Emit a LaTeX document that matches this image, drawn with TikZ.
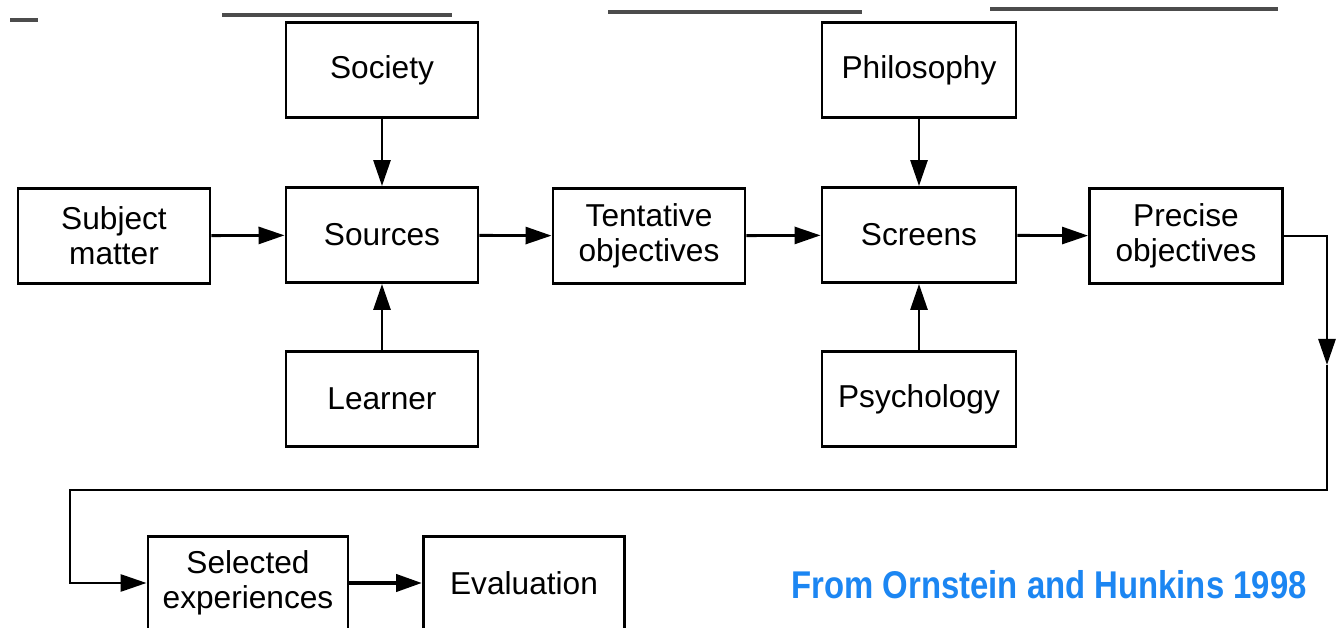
\documentclass[tikz,border=0pt]{standalone}
\usepackage{fontspec}
\setmainfont{Liberation Sans}
\usetikzlibrary{arrows.meta}
\definecolor{citeblue}{RGB}{28,134,242}
\tikzset{
  box/.style={draw, thick, minimum width=1.92cm, minimum height=0.95cm, inner sep=0pt,
    align=center, font=\fontsize{9}{10}\selectfont},
  scanline/.style={line width=1.2pt, black!70}
}
\begin{document}
\begin{tikzpicture}[x=0.01cm, y=-0.01cm, >={Triangle[length=2.6mm,width=1.7mm]}, thick]
\useasboundingbox (0,0) rectangle (1336,628);
\clip (0,0) rectangle (1336,628);

\draw[scanline] (10,20) -- (38,20);
\draw[scanline] (222,15) -- (452,15);
\draw[scanline] (608,12) -- (862,12);
\draw[scanline] (990,9) -- (1278,9);

\node[box] (subj) at (114,236){Subject\\matter};
\node[box] (soc) at (382,70){Society};
\node[box] (src) at (382,235){Sources};
\node[box] (learn) at (382,399){Learner};
\node[box] (tent) at (649,236){Tentative\\objectives};
\node[box, minimum width=1.94cm] (phil) at (919,70){Philosophy};
\node[box, minimum width=1.94cm] (scr) at (919,235){Screens};
\node[box, minimum width=1.94cm] (psy) at (919,399){Psychology};
\node[box, minimum width=1.93cm] (prec) at (1186,236){Precise\\objectives};
\node[box, minimum width=2.0cm, minimum height=0.93cm] (sel) at (248,583){Selected\\experiences};
\node[box, minimum width=2.01cm, minimum height=0.93cm] (eval) at (524,583){Evaluation};

\draw[->] (subj) -- (src);
\draw[->] (soc) -- (src);
\draw[->] (learn) -- (src);
\draw[->] (src) -- (tent);
\draw[->] (tent) -- (scr);
\draw[->] (phil) -- (scr);
\draw[->] (psy) -- (scr);
\draw[->] (scr) -- (prec);
\draw[->, line width=1.2pt] (sel) -- (eval);

\coordinate (turnA) at (1327,236);
\coordinate (midA) at (1327,365);
\coordinate (turnB) at (1327,490);
\coordinate (turnC) at (70,490);
\draw[->] (prec.east) -- (turnA) -- (midA);
\draw[->] (midA) -- (turnB) -- (turnC) |- (sel.west);

\node[text=citeblue, font=\bfseries\fontsize{11}{12}\selectfont, xscale=0.85] (cite) at (1049,585){From Ornstein and Hunkins 1998};
\end{tikzpicture}
\end{document}
